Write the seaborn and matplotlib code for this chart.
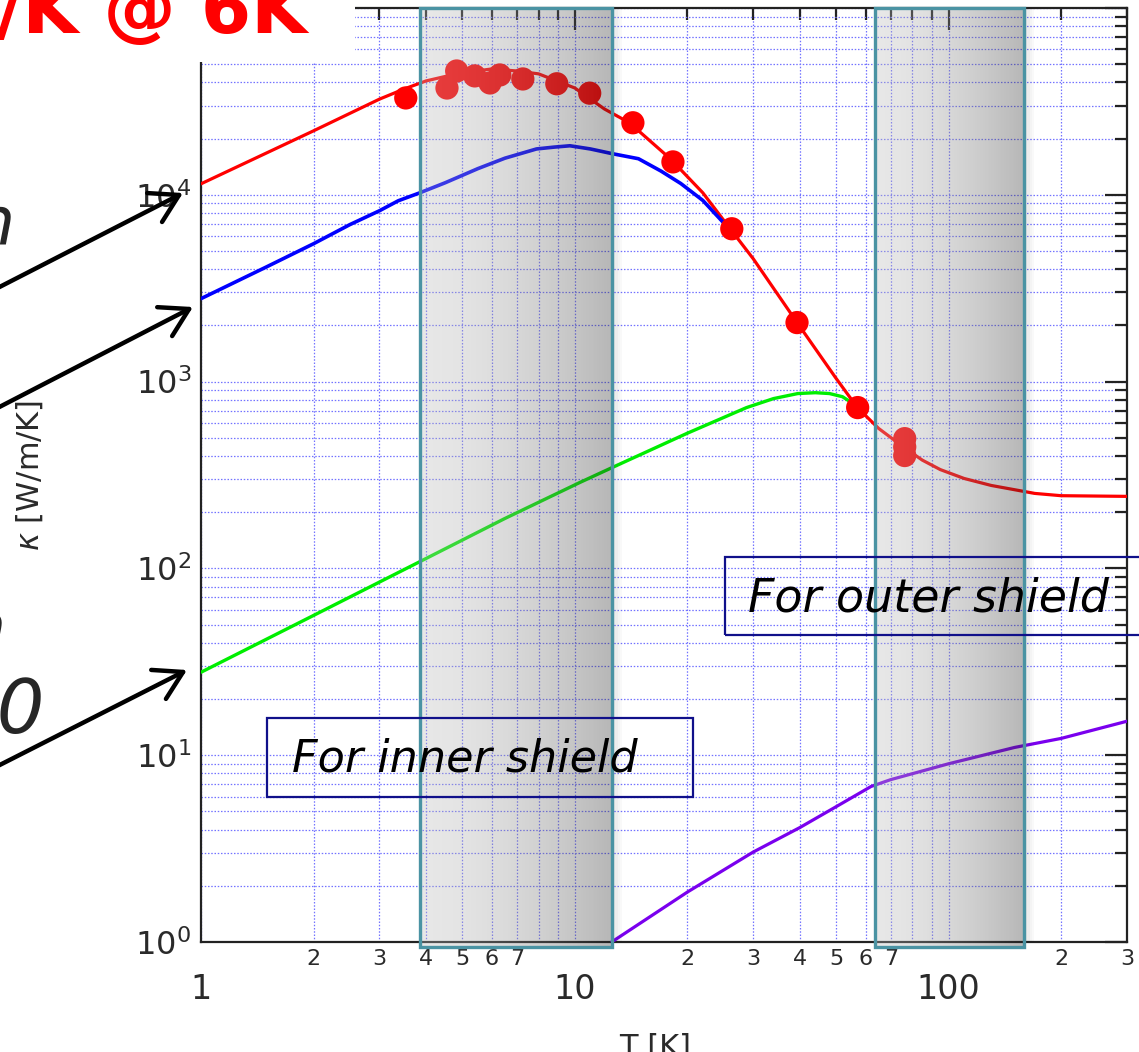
import numpy as np
import pandas as pd
import matplotlib
matplotlib.use("Agg")
import matplotlib.pyplot as plt
import matplotlib.ticker as mticker
from matplotlib.patches import Rectangle
from matplotlib.colors import LinearSegmentedColormap
import seaborn as sns

# ---------------- data ----------------
fit_T = [1, 2, 3, 3.5, 4, 4.5, 5, 6, 7, 8, 10, 12, 14, 18, 22, 26, 30, 40, 50, 57, 65, 76,
         85, 95, 110, 130, 170, 200, 300]
fit_k = [11450, 22000, 32500, 36900, 40700, 43000, 44900, 47200, 46000, 44400, 37300, 28800,
         24300, 15600, 10250, 6600, 4550, 1970, 1040, 726, 561, 444, 380, 338, 303, 278, 252, 245, 243]

meas_T = [3.53, 4.55, 4.83, 5.4, 5.93, 6.3, 7.26, 8.95, 10.96, 14.3, 18.3, 26.3, 39.3, 57.1, 76.3, 76.3, 76.3]
meas_k = [33000, 37300, 46000, 43300, 39700, 43800, 41700, 39300, 35000, 24300, 15000, 6580, 2070, 726, 495, 447, 402]

blue_T = [1, 1.5, 2, 2.5, 3, 3.37, 3.85, 4.5, 5.5, 6.5, 7.9, 8.8, 9.7, 11, 12.6, 14.8, 17, 19.2, 22, 25]
blue_k = [2780, 4120, 5470, 6920, 8210, 9290, 10250, 11600, 13800, 15700, 17600, 18000, 18300, 17600,
          16600, 15600, 13400, 11500, 9330, 7080]

green_T = [1, 2, 4, 6.5, 10.3, 12.6, 19.9, 28.8, 34, 39.5, 44, 48, 52, 55, 57]
green_k = [27.8, 56, 113, 185, 288, 347, 527, 726, 811, 863, 872, 863, 830, 772, 745]

purple_T = [12.55, 20, 30, 40, 50, 62, 70, 100, 150, 200, 300]
purple_k = [1.0, 1.85, 3.03, 4.1, 5.3, 6.8, 7.4, 9.0, 11.0, 12.3, 15.2]

shield_ranges = [(3.85, 12.55), (63.4, 158.8)]

inner_label = "For inner shield"
inner_box = (1.50, 20.7, 5.96, 15.8)     # T0, T1, k0, k1
inner_text_pos = (1.75, 9.6)
outer_label = "For outer shield"
outer_box = (25.2, 420.0, 43.8, 114.5)
outer_text_pos = (29.0, 69.0)

title_text = "/K @ 6K"
side_texts = ["n", "n", "70"]

x_label = "T [K]"
y_label = r"$\kappa$ [W/m/K]"
xlim = (1, 300)
ylim = (1, 1e5)

# ---------------- figure ----------------
sns.set_style("white")
plt.rcParams["font.family"] = ["DejaVu Sans"]
W, H, DPI = 1139, 1052, 100
fig = plt.figure(figsize=(W / DPI, H / DPI), dpi=DPI)
fig.patch.set_facecolor("white")
ax = fig.add_axes([201 / W, 1 - 942 / H, (1127 - 201) / W, (942 - 8) / H])
ax.set_xscale("log")
ax.set_yscale("log")
ax.set_xlim(*xlim)
ax.set_ylim(*ylim)

# curves
sns.lineplot(x=fit_T, y=fit_k, ax=ax, color="#ff0000", lw=2.3, estimator=None, sort=False, zorder=3)
sns.lineplot(x=blue_T, y=blue_k, ax=ax, color="#0000ff", lw=2.6, estimator=None, sort=False, zorder=3)
sns.lineplot(x=green_T, y=green_k, ax=ax, color="#00ee00", lw=2.4, estimator=None, sort=False, zorder=3)
sns.lineplot(x=purple_T, y=purple_k, ax=ax, color="#7a00ee", lw=2.3, estimator=None, sort=False, zorder=3)
sns.scatterplot(x=meas_T, y=meas_k, ax=ax, color="#ff0000", s=280, edgecolor="none", linewidth=0, zorder=4)

# shaded shield bands (semi transparent gradient, drawn over the curves)
band_cmap = LinearSegmentedColormap.from_list("band", ["#b8b8b8", "#262626"])
for (t0, t1) in shield_ranges:
    n = 120
    xe = np.logspace(np.log10(t0), np.log10(t1), n + 1)
    ye = np.array([0.935, ylim[1]])
    c = (np.linspace(0, 1, n) ** 1.6).reshape(1, n)
    ax.pcolormesh(xe, ye, c, cmap=band_cmap, vmin=0, vmax=1, alpha=0.33,
                  shading="flat", antialiased=False, zorder=5, clip_on=False)
    for j, a in enumerate([0.10, 0.07, 0.045, 0.025]):
        f0 = t1 * 10 ** (0.004 + j * 0.006)
        f1 = t1 * 10 ** (0.004 + (j + 1) * 0.006)
        ax.add_patch(Rectangle((f0, 0.93), f1 - f0, ylim[1] - 0.93, facecolor="black",
                               alpha=a, lw=0, zorder=4.9, clip_on=True))
    ax.add_patch(Rectangle((t0, 0.935), t1 - t0, ylim[1] - 0.935, fill=False,
                           edgecolor="#4a93a3", lw=2.4, zorder=6, clip_on=False))

# text boxes
for (bx, lbl, tp, fs) in [(inner_box, inner_label, inner_text_pos, 32),
                          (outer_box, outer_label, outer_text_pos, 33)]:
    ax.add_patch(Rectangle((bx[0], bx[2]), bx[1] - bx[0], bx[3] - bx[2], fill=False,
                           edgecolor="#10108a", lw=1.6, zorder=7, clip_on=False))
    ax.text(tp[0], tp[1], lbl, fontsize=fs, style="italic", color="black",
            ha="left", va="center", zorder=8, clip_on=False)

# grid
ax.set_axisbelow("line")
ax.grid(True, which="both", axis="both", color="#7373ff", linestyle=(0, (1.2, 1.4)), linewidth=0.9)

# ticks
ax.xaxis.set_major_locator(mticker.LogLocator(base=10, numticks=10))
ax.xaxis.set_minor_locator(mticker.LogLocator(base=10, subs=np.arange(2, 10), numticks=40))
ax.yaxis.set_major_locator(mticker.LogLocator(base=10, numticks=10))
ax.yaxis.set_minor_locator(mticker.LogLocator(base=10, subs=np.arange(2, 10), numticks=40))
ax.xaxis.set_major_formatter(mticker.FuncFormatter(lambda v, p: f"{v:g}"))
ax.yaxis.set_major_formatter(mticker.FuncFormatter(
    lambda v, p: (r"$\mathdefault{10^{%d}}$" % round(np.log10(v))) if v < 5e4 else ""))


def minor_fmt(v, p):
    d = int(round(v / 10 ** np.floor(np.log10(v) + 1e-9)))
    return str(d) if 2 <= d <= 7 else ""


ax.xaxis.set_minor_formatter(mticker.FuncFormatter(minor_fmt))
ax.yaxis.set_minor_formatter(mticker.NullFormatter())

ax.tick_params(which="both", direction="in", top=True, right=True, width=1.6, color="#222222",
               labelcolor="#2a2a2a")
ax.tick_params(which="major", length=16)
ax.tick_params(which="minor", length=8.5)
ax.xaxis.set_tick_params(which="major", pad=22, labelsize=24)
ax.xaxis.set_tick_params(which="minor", pad=5, labelsize=16)
ax.yaxis.set_tick_params(which="major", pad=7, labelsize=23)
for s in ax.spines.values():
    s.set_linewidth(1.6)
    s.set_color("#222222")

ax.set_xlabel(x_label, fontsize=22, color="#2a2a2a", va="top")
ax.xaxis.set_label_coords(0.49, (942 - 1033) / 934)
ax.set_ylabel(y_label, fontsize=22, color="#2a2a2a")
ax.yaxis.set_label_coords((45 - 201) / 926, 0.5)

# slide overlay: white box behind the title, red title, cut side texts and arrows
fig.patches.append(Rectangle((0, 1 - 62 / H), 355 / W, 62 / H, transform=fig.transFigure,
                             facecolor="white", edgecolor="none", zorder=10))
fig.text(-4 / W, 1 - 33 / H, title_text, color="#ff0000", fontsize=52, fontweight="bold",
         ha="left", va="baseline", zorder=11)
fig.text(15 / W, 1 - 245 / H, side_texts[0], fontsize=48, style="italic", ha="right",
         va="baseline", zorder=11)
fig.text(6 / W, 1 - 650 / H, side_texts[1], fontsize=48, style="italic", ha="right",
         va="baseline", zorder=11)
fig.text(45 / W, 1 - 733 / H, side_texts[2], fontsize=54, style="italic", ha="right",
         va="baseline", zorder=11)

arrows = [((-20, 297), (183, 193)), ((-20, 417), (193, 307)), ((-20, 775), (187, 670))]
for (p0, p1) in arrows:
    ax.annotate("", xy=(p1[0], H - p1[1]), xycoords="figure pixels",
                xytext=(p0[0], H - p0[1]), textcoords="figure pixels",
                arrowprops=dict(arrowstyle="->,head_length=1.1,head_width=0.65", lw=3.2,
                                color="black", shrinkA=0, shrinkB=0, mutation_scale=18),
                annotation_clip=False, zorder=12)

fig.savefig("out.png", dpi=DPI, facecolor="white")
